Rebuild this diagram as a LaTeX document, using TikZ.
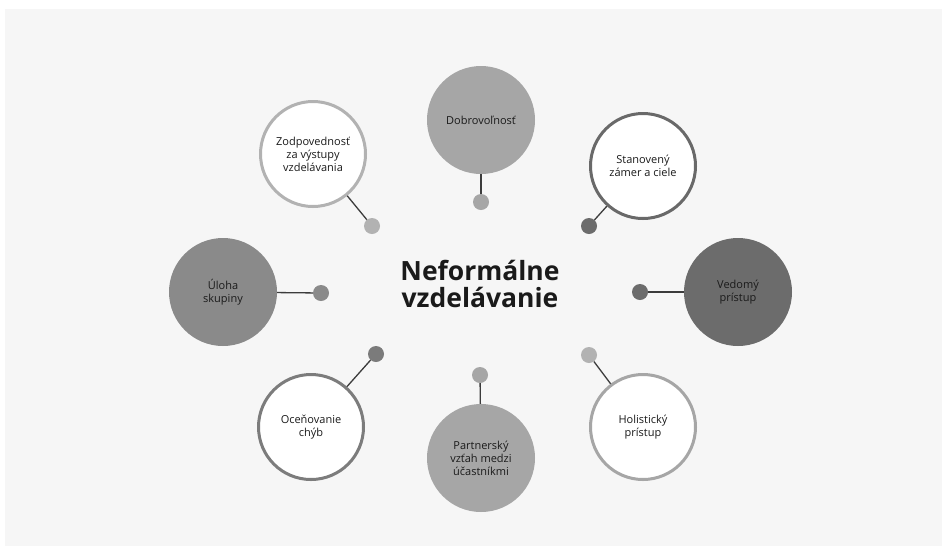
\documentclass[tikz,border=0pt]{standalone}
\usepackage{fontspec}
\setmainfont{Open Sans}
\definecolor{bgray}{HTML}{F6F6F6}
\definecolor{lightg}{HTML}{A6A6A6}
\definecolor{paleg}{HTML}{B2B2B2}
\definecolor{midg}{HTML}{8A8A8A}
\definecolor{darkg}{HTML}{6C6C6C}
\definecolor{ringg}{HTML}{7C7C7C}
\definecolor{inkg}{HTML}{1A1A1A}
\tikzset{
    bubble/.style={circle, minimum size=108pt, inner sep=0pt, align=center,
                   text=inkg, font=\fontsize{11}{13}\selectfont},
    ring/.style={bubble, draw=#1, line width=3pt, fill=white, minimum size=105pt},
    disc/.style={bubble, fill=#1},
    dot/.style={circle, minimum size=16pt, inner sep=0pt, fill=#1},
    link/.style={draw=inkg!85, line width=1.3pt},
}
\begin{document}
\begin{tikzpicture}[x=1pt,y=-1pt]
    \useasboundingbox (0,0) rectangle (947,547);
    \fill[bgray] (5,9) rectangle (942,546);
    % centre
    \node[align=center, text=inkg, font=\fontsize{26.5}{27}\selectfont\bfseries]
        (title) at (480,284) {Neformálne\\vzdelávanie};
    % big circles
    \node[disc=lightg] (dobro) at (481,120) {Dobrovoľnosť};
    \node[ring=paleg]  (zodp)  at (313,154) {Zodpovednosť\\za výstupy\\vzdelávania};
    \node[ring=ringg!85!black] (stan) at (643,166) {Stanovený\\zámer a ciele};
    \node[disc=darkg]  (vedo)  at (738,292) {Vedomý\\prístup};
    \node[ring=lightg] (holi)  at (643,427) {Holistický\\prístup};
    \node[disc=lightg] (partn) at (481,458) {Partnerský\\vzťah medzi\\účastníkmi};
    \node[ring=ringg]  (ocen)  at (311,427) {Oceňovanie\\chýb};
    \node[disc=midg]   (uloha) at (223,292) {Úloha\\skupiny};
    % small dots
    \node[dot=lightg] (dobrodot) at (481,202) {};
    \node[dot=paleg]  (zodpdot)  at (372,226) {};
    \node[dot=darkg]  (standot)  at (589,226) {};
    \node[dot=darkg]  (vedodot)  at (640,292) {};
    \node[dot=paleg]  (holidot)  at (589,355) {};
    \node[dot=lightg] (partndot) at (480,375) {};
    \node[dot=darkg!90]  (ocendot)  at (376,354) {};
    \node[dot=midg]   (ulohadot) at (321,293) {};
    % links
    \draw[link] (dobro) -- (dobrodot);
    \draw[link] (zodp)  -- (zodpdot);
    \draw[link] (stan)  -- (standot);
    \draw[link] (vedo)  -- (vedodot);
    \draw[link] (holi)  -- (holidot);
    \draw[link] (partn) -- (partndot);
    \draw[link] (ocen)  -- (ocendot);
    \draw[link] (uloha) -- (ulohadot);
\end{tikzpicture}
\end{document}
